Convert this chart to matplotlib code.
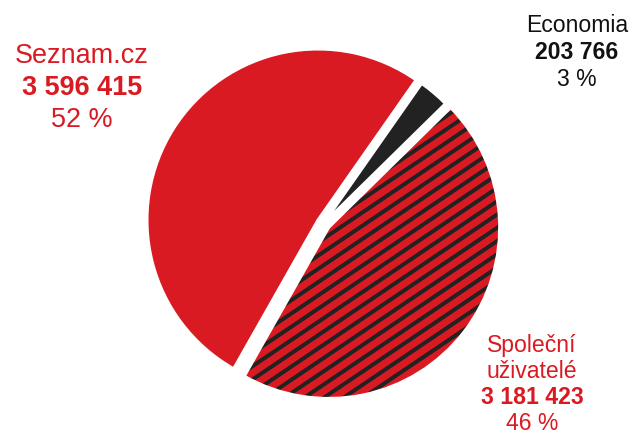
import numpy as np
import matplotlib.pyplot as plt

# DATA
nazvy = ["Seznam.cz", "Společní\nuživatelé", "Economia"]
hodnoty = [3596415, 3181423, 203766]
barvy = ["#da1a22", "#da1a22", "#222222"]
srafovat = [False, True, False]

CERVENA = "#da1a22"

DPI = 100
W, H = 631, 434

plt.rcParams['font.family'] = ['Liberation Sans', 'DejaVu Sans']


def fs(px):
    return px * 72 / DPI


fig = plt.figure(figsize=(W / DPI, H / DPI), dpi=DPI)
ax = fig.add_axes([0, 0, 1, 1])

# osy v pixelech (y nahoru)
stred = (323.5, H - 223.5)
polomer = 171
odsazeni = [6.5, 6.5, 0.0]

# vypln
wedges, _ = ax.pie(hodnoty, colors=barvy, startangle=55, counterclock=True,
                   explode=odsazeni, center=stred, radius=polomer,
                   wedgeprops=dict(linewidth=0))

# srafovani - sikme cary oriznute na vysec
uhel = np.deg2rad(34)
krok = 11 / np.cos(uhel)
xs = np.array([stred[0] - 200, stred[0] + 200])
for w, s in zip(wedges, srafovat):
    if not s:
        continue
    for c in np.arange(-400, 400, krok):
        car, = ax.plot(xs, stred[1] + c + np.tan(uhel) * (xs - stred[0]),
                       color="#222222", lw=fs(4), solid_capstyle='butt', zorder=2)
        car.set_clip_path(w)

# bile okraje mezi vysecemi (nad srafovanim)
ax.pie(hodnoty, colors=barvy, startangle=55, counterclock=True,
       explode=odsazeni, center=stred, radius=polomer,
       wedgeprops=dict(fill=False, linewidth=fs(3), edgecolor="white", zorder=3))

ax.set_xlim(0, W)
ax.set_ylim(0, H)
ax.axis('off')

celkem = sum(hodnoty)


def cislo(v):
    return f"{v:,}".replace(",", " ")


def popisek(x, radky, baseline, velikost, barva, mezera):
    y = baseline
    for txt, tucne in radky:
        ax.text(x, H - y, txt, ha='center', va='baseline', fontsize=fs(velikost),
                color=barva, fontweight='bold' if tucne else 'normal', zorder=4)
        y += mezera


for i, v in enumerate(hodnoty):
    pct = f"{round(v / celkem * 100)} %"
    radky = [(r, False) for r in nazvy[i].split("\n")]
    radky += [(cislo(v), True), (pct, False)]
    if i == 0:
        popisek(82, radky, 63, 27, CERVENA, 32)
    elif i == 1:
        popisek(532, radky, 352, 23, CERVENA, 26)
    else:
        popisek(577, radky, 32, 23, "#111111", 27)

plt.savefig("out.png", dpi=DPI)
